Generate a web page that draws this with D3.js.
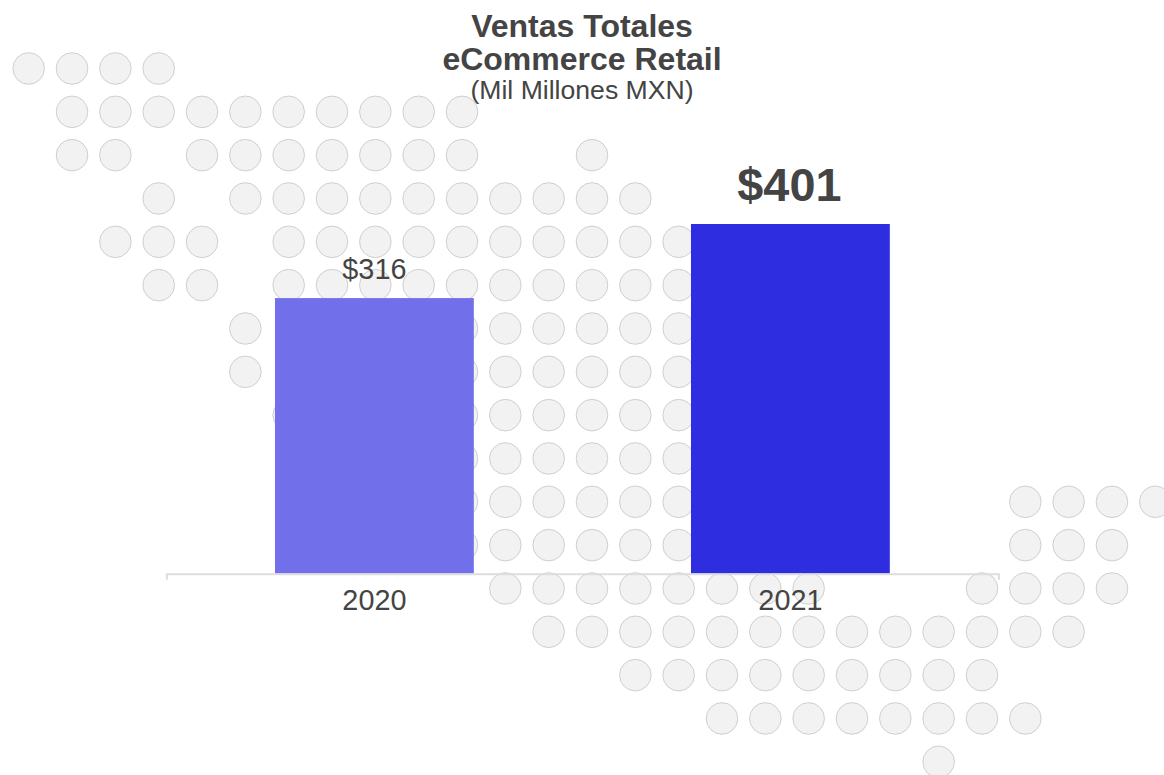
<!DOCTYPE html>
<html>
<head>
<meta charset="utf-8">
<script src="https://cdn.jsdelivr.net/npm/d3@7"></script>
<style>
    html, body { margin: 0; padding: 0; background: #fff; }
    svg { display: block; }
    text { font-family: "Liberation Sans", Arial, sans-serif; fill: #444; }
    .axis path { stroke: #ddd; stroke-width: 2; fill: none; }
    .axis text { font-size: 28.8px; }
</style>
</head>
<body>
<div id="chart"></div>
<script>
(function(d3) {

    var years = ['2020', '2021'];
    var sales = [316, 401];
    var labels = ['$316', '$401'];
    var barColors = ['#7170ea', '#2e2ee0'];
    var titleLines = ['Ventas Totales', 'eCommerce Retail'];
    var subtitle = '(Mil Millones MXN)';

    // map background: [row, first column, last column] on the dot grid
    var mapRuns = [
        [0, 0, 3],
        [1, 1, 10],
        [2, 1, 2], [2, 4, 10], [2, 13, 13],
        [3, 3, 3], [3, 5, 14],
        [4, 2, 4], [4, 6, 15],
        [5, 3, 4], [5, 6, 15],
        [6, 5, 5], [6, 10, 15],
        [7, 5, 5], [7, 10, 15],
        [8, 6, 6], [8, 10, 15],
        [9, 10, 15],
        [10, 10, 15], [10, 23, 26],
        [11, 10, 15], [11, 23, 25],
        [12, 11, 18], [12, 22, 25],
        [13, 12, 24],
        [14, 14, 22],
        [15, 16, 23],
        [16, 21, 21]
    ];

    var w = 1164; //width
    var h = 775; //height

    var svg = d3.select('#chart')
        .append('svg')
        .attr('width', w)
        .attr('height', h);

    // dot grid scales
    var col = d3.scaleLinear().domain([0, 26]).range([28.7, 1155.3]);
    var row = d3.scaleLinear().domain([0, 16]).range([68.5, 761.8]);

    var dots = [];
    mapRuns.forEach(function(run) {
        d3.range(run[1], run[2] + 1).forEach(function(c) {
            dots.push({ row: run[0], col: c });
        });
    });

    svg.append('g')
        .selectAll('circle')
        .data(dots)
        .enter()
        .append('circle')
        .attr('cx', function(d) { return col(d.col); })
        .attr('cy', function(d) { return row(d.row); })
        .attr('r', 15.8)
        .attr('fill', '#f2f2f2')
        .attr('stroke', '#cfcfcf')
        .attr('stroke-width', 1);

    // bars
    var x = d3.scaleBand().domain(years).range([166.4, 998.4]).paddingInner(0.522).paddingOuter(0.261);
    var y = d3.scaleLinear().domain([0, 401]).range([573.5, 224]);

    svg.append('g')
        .selectAll('rect')
        .data(sales)
        .enter()
        .append('rect')
        .attr('x', function(d, i) { return x(years[i]); })
        .attr('y', function(d) { return y(d); })
        .attr('width', x.bandwidth())
        .attr('height', function(d) { return y(0) - y(d); })
        .attr('fill', function(d, i) { return barColors[i]; });

    // axis
    var axis = svg.append('g')
        .attr('class', 'axis')
        .attr('transform', 'translate(0,573.8)')
        .call(d3.axisBottom(x).tickSize(0).tickSizeOuter(6).tickPadding(16));
    axis.selectAll('.tick line').remove();
    axis.selectAll('text').attr('dy', '0.71em');

    // value labels, the latest year is emphasised
    svg.append('g')
        .selectAll('text')
        .data(sales)
        .enter()
        .append('text')
        .attr('x', function(d, i) { return x(years[i]) + x.bandwidth() / 2 + (i === 1 ? -1 : 0); })
        .attr('y', function(d, i) { return y(d) + (i === 1 ? -23 : -19.5); })
        .attr('text-anchor', 'middle')
        .style('font-size', function(d, i) { return i === 1 ? '46.8px' : '28.8px'; })
        .style('font-weight', function(d, i) { return i === 1 ? 'bold' : 'normal'; })
        .text(function(d, i) { return labels[i]; });

    // title
    svg.append('g')
        .selectAll('text')
        .data(titleLines)
        .enter()
        .append('text')
        .attr('x', 582)
        .attr('y', function(d, i) { return 37 + i * 33; })
        .attr('text-anchor', 'middle')
        .style('font-size', '32px')
        .style('font-weight', 'bold')
        .text(function(d) { return d; });

    svg.append('text')
        .attr('x', 582)
        .attr('y', 99)
        .attr('text-anchor', 'middle')
        .style('font-size', '26.6px')
        .text(subtitle);

})(window.d3);
</script>
</body>
</html>
